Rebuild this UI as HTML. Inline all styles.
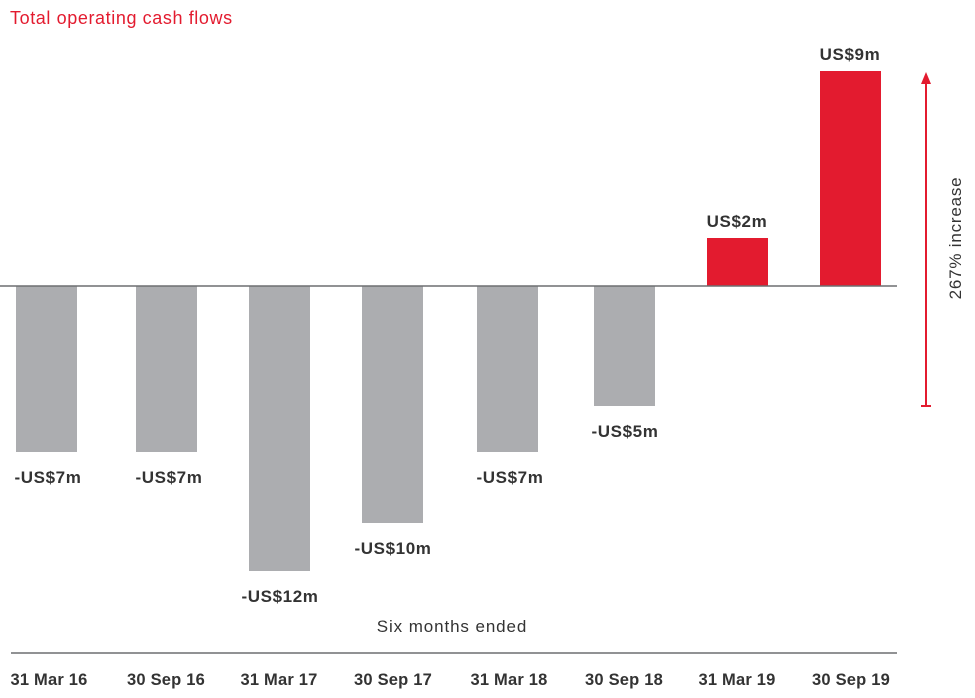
<!DOCTYPE html>
<html><head><meta charset="utf-8"><style>
html,body{margin:0;padding:0;background:#fff;}
svg{display:block;font-family:"Liberation Sans",sans-serif;}
</style></head><body>
<svg width="975" height="698" viewBox="0 0 975 698" xmlns="http://www.w3.org/2000/svg">
<text x="10" y="24" font-size="18" fill="#e31b2f" letter-spacing="0.6">Total operating cash flows</text>
<g fill="#acadb0">
<rect x="16" y="286" width="61" height="166"/>
<rect x="136" y="286" width="61" height="166"/>
<rect x="249" y="286" width="61" height="285"/>
<rect x="362" y="286" width="61" height="237"/>
<rect x="477" y="286" width="61" height="166"/>
<rect x="594" y="286" width="61" height="120"/>
</g>
<g fill="#e31b2f">
<rect x="707" y="238" width="61" height="48"/>
<rect x="820" y="71" width="61" height="215"/>
</g>
<line x1="0" y1="286" x2="897" y2="286" stroke="#6d6e71" stroke-width="1.5"/>
<g font-size="17" fill="#333" text-anchor="middle" font-weight="bold" letter-spacing="0.6">
<text x="48" y="483">-US$7m</text>
<text x="169" y="483">-US$7m</text>
<text x="280" y="602">-US$12m</text>
<text x="393" y="554">-US$10m</text>
<text x="510" y="483">-US$7m</text>
<text x="625" y="437">-US$5m</text>
<text x="737" y="227">US$2m</text>
<text x="850" y="60">US$9m</text>
</g>
<line x1="926" y1="406" x2="926" y2="84" stroke="#e31b2f" stroke-width="2"/>
<line x1="921" y1="406" x2="931" y2="406" stroke="#e31b2f" stroke-width="2"/>
<polygon points="926,72 921,84 931,84" fill="#e31b2f"/>
<text transform="translate(961,238) rotate(-90)" font-size="17" fill="#333" text-anchor="middle" letter-spacing="0.8">267% increase</text>
<text x="452" y="632" font-size="17" fill="#333" text-anchor="middle" letter-spacing="0.9">Six months ended</text>
<line x1="11" y1="653" x2="897" y2="653" stroke="#6d6e71" stroke-width="1.5"/>
<g font-size="16.5" fill="#333" text-anchor="middle" font-weight="bold" letter-spacing="0.2">
<text x="49" y="685">31 Mar 16</text>
<text x="166" y="685">30 Sep 16</text>
<text x="279" y="685">31 Mar 17</text>
<text x="393" y="685">30 Sep 17</text>
<text x="509" y="685">31 Mar 18</text>
<text x="624" y="685">30 Sep 18</text>
<text x="737" y="685">31 Mar 19</text>
<text x="851" y="685">30 Sep 19</text>
</g>
</svg>
</body></html>
